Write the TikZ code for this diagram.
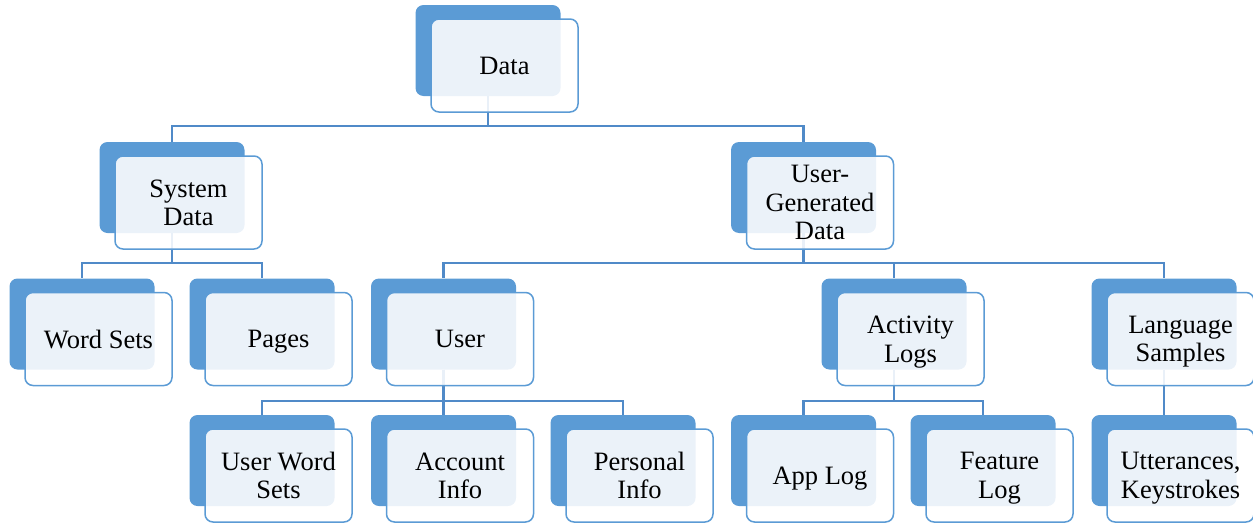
\documentclass[tikz,border=0pt]{standalone}
\usepackage{fontspec}
\setmainfont{Liberation Serif}
\usetikzlibrary{positioning}
\definecolor{boxblue}{RGB}{91,155,213}
\definecolor{lineblue}{RGB}{80,138,200}

\tikzset{
  back/.style={fill=boxblue, rounded corners=8pt, minimum width=145pt, minimum height=91pt, inner sep=0pt},
  front/.style={draw=boxblue, line width=1.5pt, fill=white, fill opacity=0.88, text opacity=1,
    rounded corners=8pt, minimum width=147pt, minimum height=93pt, inner sep=0pt, align=center,
    text depth=0pt, font=\fontsize{26.5}{28.5}\selectfont},
  link/.style={draw=lineblue, line width=2.2pt}
}

\begin{document}
\begin{tikzpicture}[x=1pt,y=1pt]
    \useasboundingbox (0,0) rectangle (1253,-525);
    % back boxes
    \foreach \n/\x/\y in {data/488/-50.5, sys/172/-187.5, ugd/803.5/-187.5,
        words/82/-324, pages/262/-324, user/443.5/-324, act/894/-324, lang/1164/-324,
        uws/262/-460.5, acc/443.5/-460.5, pers/623/-460.5, app/803.5/-460.5,
        feat/983/-460.5, utt/1164/-460.5}
      \node[back] (\n) at (\x,\y) {};
    % connectors
    \draw[link] (data.south) -- ++(0,-30) -| (sys.north);
    \draw[link] (data.south) -- ++(0,-30) -| (ugd.north);
    \draw[link] (sys.south) -- ++(0,-30) -| (words.north);
    \draw[link] (sys.south) -- ++(0,-30) -| (pages.north);
    \draw[link] (ugd.south) -- ++(0,-30) -| (user.north);
    \draw[link] (ugd.south) -- ++(0,-30) -| (act.north);
    \draw[link] (ugd.south) -- ++(0,-30) -| (lang.north);
    \draw[link] (user.south) -- ++(0,-31) -| (uws.north);
    \draw[link] (user.south) -- ++(0,-31) -| (acc.north);
    \draw[link] (user.south) -- ++(0,-31) -| (pers.north);
    \draw[link] (act.south) -- ++(0,-31) -| (app.north);
    \draw[link] (act.south) -- ++(0,-31) -| (feat.north);
    \draw[link] (lang.south) -- (utt.north);
    % front boxes
    \foreach \n/\t in {data/Data, sys/{System\\Data}, ugd/{User-\\Generated\\Data},
        words/{Word Sets}, pages/Pages, user/User, act/{Activity\\Logs},
        lang/{Language\\Samples}, uws/{User Word\\Sets}, acc/{Account\\Info},
        pers/{Personal\\Info}, app/{App Log}, feat/{Feature\\Log},
        utt/{Utterances,\\Keystrokes}}
      \node[front] (\n f) at ([shift={(16.5,-15)}]\n.center) {\t};
\end{tikzpicture}
\end{document}
